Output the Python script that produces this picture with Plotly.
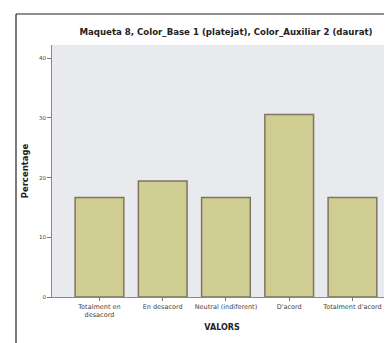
import plotly.graph_objects as go

categories = ["Totalment en<br>desacord", "En desacord", "Neutral (indiferent)", "D'acord", "Totalment d'acord"]
percentages = [16.67, 19.44, 16.67, 30.56, 16.67]
y_ticks = [0, 10, 20, 30, 40]

# page body has an 8px margin; compensate so that the picture lands like the reference
OFF = 8
W, H = 392 - OFF, 343 - OFF
L, R, T, B = 52 - OFF, 0, 45 - OFF, 46
pw, ph = W - L - R, H - T - B

def px_x(px):
    return (px - OFF - L) / pw

def px_y(py):
    return (H - B - (py - OFF)) / ph

fig = go.Figure()
fig.add_trace(go.Bar(
    x=list(range(len(categories))),
    y=percentages,
    width=0.77,
    marker=dict(color="#CFCD92", line=dict(color="#7E7563", width=1.5)),
    hoverinfo="skip",
))

fig.update_layout(
    width=W, height=H,
    margin=dict(l=L, r=R, t=T, b=B, pad=0),
    paper_bgcolor="white",
    plot_bgcolor="#E9EAED",
    showlegend=False,
    font=dict(family="DejaVu Sans", color="#333"),
    title=dict(
        text="<b>Maqueta 8, Color_Base 1 (platejat), Color_Auxiliar 2 (daurat)</b>",
        x=px_x(226), xref="paper", xanchor="center",
        y=1 - (32 - OFF) / H, yref="container", yanchor="middle",
        font=dict(size=8.6, color="#222"),
    ),
    bargap=0.2,
)

fig.update_xaxes(
    range=[-0.75, 4.625],
    tickmode="array",
    tickvals=list(range(len(categories))),
    ticktext=categories,
    tickfont=dict(size=6.5, color="#444"),
    ticks="outside", ticklen=3, tickcolor="#777",
    showline=True, linecolor="#888", linewidth=1,
    showgrid=False, zeroline=False,
    title=dict(text="<b>VALORS</b>", font=dict(size=8, color="#222"), standoff=6),
)
fig.update_yaxes(
    range=[0, (H - B - T) / 5.97],
    tickmode="array",
    tickvals=y_ticks,
    ticktext=[str(v) for v in y_ticks],
    tickfont=dict(size=5.5, color="#444"),
    ticks="outside", ticklen=4, tickcolor="#777",
    showline=True, linecolor="#888", linewidth=1, mirror=True,
    showgrid=False, zeroline=False,
    title=dict(text="<b>Percentage</b>", font=dict(size=8.5, color="#222"), standoff=8),
)

# outer frame of the chart (cut off at right and bottom)
fig.add_shape(type="line", xref="paper", yref="paper",
              x0=px_x(16), x1=px_x(16), y0=px_y(420), y1=px_y(14),
              line=dict(color="#222", width=1.2))
fig.add_shape(type="line", xref="paper", yref="paper",
              x0=px_x(16), x1=px_x(420), y0=px_y(14), y1=px_y(14),
              line=dict(color="#222", width=1.2))

fig.write_html("out.html")
